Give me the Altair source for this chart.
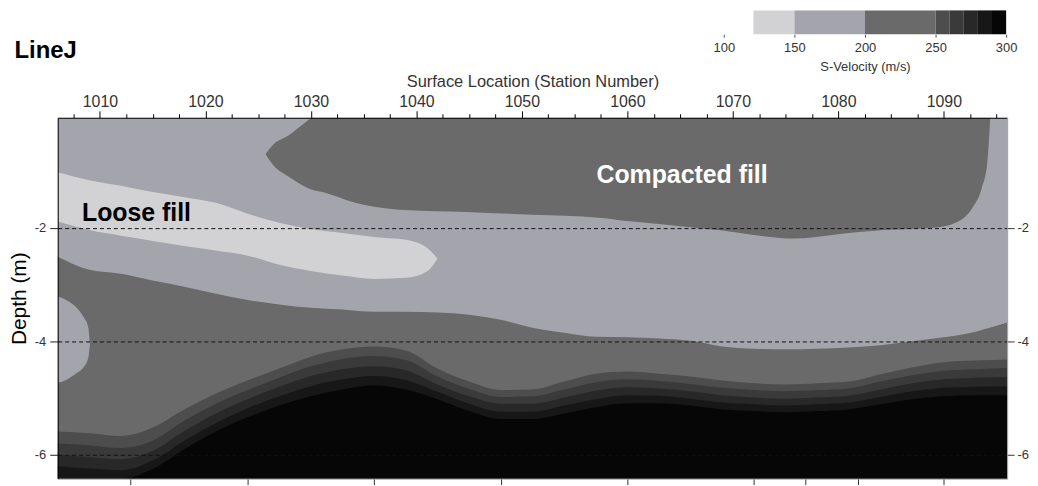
import altair as alt
import pandas as pd

FONT = "Liberation Sans"

# ---------------- data ----------------
X_DOMAIN = [1006.0, 1096.0]
Y_DOMAIN = [-6.42, -0.06]

grid_stations = [1006, 1009, 1012, 1015, 1018, 1021, 1024, 1027, 1030, 1033, 1036,
                 1039, 1042, 1045, 1048, 1051, 1054, 1057, 1060, 1063, 1066, 1069,
                 1072, 1075, 1078, 1081, 1084, 1087, 1090, 1093, 1096]

# contour boundaries (depth, m) on the station grid
b200 = [-2.51, -2.74, -2.81, -2.93, -3.04, -3.16, -3.27, -3.35, -3.41, -3.44, -3.48,
        -3.48, -3.49, -3.53, -3.62, -3.76, -3.85, -3.92, -3.93, -3.95, -3.99, -4.09,
        -4.13, -4.14, -4.13, -4.11, -4.07, -4.00, -3.93, -3.83, -3.67]
b250 = [-5.59, -5.62, -5.67, -5.52, -5.20, -4.92, -4.69, -4.48, -4.27, -4.14, -4.09,
        -4.16, -4.48, -4.71, -4.86, -4.85, -4.71, -4.57, -4.53, -4.57, -4.62, -4.69,
        -4.74, -4.76, -4.74, -4.71, -4.58, -4.46, -4.37, -4.34, -4.32]
b260 = [-5.80, -5.83, -5.88, -5.75, -5.40, -5.10, -4.86, -4.64, -4.44, -4.31, -4.26,
        -4.33, -4.62, -4.84, -4.98, -4.97, -4.85, -4.72, -4.67, -4.70, -4.75, -4.82,
        -4.86, -4.88, -4.86, -4.83, -4.71, -4.60, -4.52, -4.49, -4.47]
b270 = [-6.00, -6.04, -6.08, -5.93, -5.58, -5.27, -5.02, -4.80, -4.61, -4.49, -4.44,
        -4.51, -4.76, -4.97, -5.10, -5.10, -4.99, -4.87, -4.81, -4.83, -4.88, -4.95,
        -4.99, -5.01, -4.99, -4.96, -4.85, -4.74, -4.67, -4.64, -4.63]
b280 = [-6.20, -6.24, -6.27, -6.10, -5.75, -5.44, -5.18, -4.97, -4.79, -4.67, -4.61,
        -4.68, -4.89, -5.10, -5.24, -5.24, -5.13, -5.02, -4.95, -4.96, -5.01, -5.08,
        -5.11, -5.13, -5.11, -5.08, -4.98, -4.88, -4.82, -4.80, -4.79]
b290 = [-6.42, -6.42, -6.42, -6.25, -5.90, -5.59, -5.34, -5.13, -4.97, -4.85, -4.78,
        -4.85, -5.02, -5.23, -5.37, -5.37, -5.27, -5.16, -5.09, -5.09, -5.13, -5.20,
        -5.23, -5.25, -5.23, -5.20, -5.11, -5.02, -4.97, -4.95, -4.95]

# "Compacted fill" body (200-250 m/s)
comp_x = [1025.7, 1026.4, 1027.9, 1029.5, 1030.1, 1031.1, 1034.2, 1036.0, 1038.4,
          1044.7, 1051.0, 1057.3, 1060.5, 1065.5, 1068.6, 1071.8, 1075.8, 1079.6,
          1084.3, 1089.0, 1091.1, 1092.7, 1093.6, 1094.1, 1094.4]
comp_top = [-0.70, -0.54, -0.37, -0.14, -0.06, -0.06, -0.06, -0.06, -0.06,
            -0.06, -0.06, -0.06, -0.06, -0.06, -0.06, -0.06, -0.06, -0.06,
            -0.06, -0.06, -0.06, -0.06, -0.06, -0.06, -0.06]
comp_bot = [-0.70, -0.89, -1.10, -1.28, -1.33, -1.37, -1.56, -1.63, -1.68,
            -1.72, -1.77, -1.82, -1.89, -1.98, -2.04, -2.12, -2.19, -2.12,
            -2.04, -2.00, -1.91, -1.65, -1.30, -0.89, -0.06]

# "Loose fill" body (< 150 m/s)
loose_x = [1006, 1009, 1012, 1015, 1018, 1021, 1024, 1027, 1030, 1033, 1036, 1039, 1041, 1042]
loose_top = [-1.02, -1.16, -1.26, -1.37, -1.46, -1.56, -1.75, -1.91, -2.02, -2.09,
             -2.16, -2.21, -2.35, -2.54]
loose_bot = [-1.89, -2.04, -2.14, -2.23, -2.32, -2.40, -2.49, -2.65, -2.76, -2.84,
             -2.90, -2.88, -2.77, -2.54]

# lighter bulge at the left edge (150-200 m/s)
bulge_x = [1006.0, 1006.8, 1007.8, 1008.4, 1008.9, 1009.05]
bulge_top = [-3.21, -3.27, -3.41, -3.56, -3.76, -4.04]
bulge_bot = [-4.73, -4.68, -4.56, -4.47, -4.29, -4.06]

# band colours (100-150, 150-200, 200-250, 250-260 ... 290-300 m/s)
C_LIGHT = "#d2d2d4"
C_MED = "#a4a4ac"
C_DARK = "#6a6a6a"
C_250 = "#4d4d4d"
C_260 = "#3a3a3a"
C_270 = "#282828"
C_280 = "#171717"
C_290 = "#060606"

major_ticks = [1010, 1020, 1030, 1040, 1050, 1060, 1070, 1080, 1090]
minor_ticks = [1007.5, 1012.5, 1015, 1017.5, 1022.5, 1025, 1027.5, 1032.5, 1035, 1037.5,
               1042.5, 1045, 1047.5, 1052.5, 1055, 1057.5, 1062.5, 1065, 1067.5,
               1072.5, 1075, 1077.5, 1082.5, 1085, 1087.5, 1092.5, 1095]
bottom_ticks = [1012.9, 1024, 1036, 1048, 1060, 1072, 1076.9, 1081.9, 1090]
depth_ticks = [-2, -4, -6]

cb_lo = [121, 150, 200, 250, 260, 270, 280, 290]
cb_hi = [150, 200, 250, 260, 270, 280, 290, 300]
cb_colors = [C_LIGHT, C_MED, C_DARK, C_250, C_260, C_270, C_280, C_290]
cb_ticks = [100, 150, 200, 250, 300]

label_text = ["Loose fill", "Compacted fill"]
label_station = [1008.3, 1057.07]
label_depth = [-1.88, -1.21]
label_color = ["#000000", "#ffffff"]

# ---------------- build ----------------
xs = alt.Scale(domain=X_DOMAIN, nice=False, zero=False)
ys = alt.Scale(domain=Y_DOMAIN, nice=False, zero=False)


def frame(x, top, bottom):
    return pd.DataFrame({"station": x, "top": top, "bottom": bottom})


def band(df, color, xaxis=None, yaxis=None):
    return alt.Chart(df).mark_area(color=color, interpolate="monotone", clip=True).encode(
        x=alt.X("station:Q", scale=xs, axis=xaxis),
        y=alt.Y("top:Q", scale=ys, axis=yaxis),
        y2="bottom:Q",
    )


ymin = [Y_DOMAIN[0]] * len(grid_stations)
ymax = [Y_DOMAIN[1]] * len(grid_stations)

ax_top = alt.Axis(orient="top", values=major_ticks, title="Surface Location (Station Number)",
                  tickSize=7, tickColor="#000", domainColor="#000", labelFontSize=16,
                  labelColor="#333", labelPadding=1, labelFont=FONT, titleFont=FONT,
                  titleFontSize=16.5, titleFontWeight="normal", titleColor="#333",
                  titlePadding=4, grid=False, labelExpr="'' + datum.value", zindex=1)
ax_minor = alt.Axis(orient="top", values=minor_ticks, labels=False, tickSize=4,
                    tickColor="#000", domain=False, grid=False, title=None, zindex=1)
ax_bottom = alt.Axis(orient="bottom", values=bottom_ticks, labels=False, tickSize=6,
                     tickColor="#333", domainColor="#999", grid=False, title=None, zindex=1)
ax_left = alt.Axis(orient="left", values=depth_ticks, title="Depth (m)", tickSize=8,
                   tickColor="#222", domainColor="#000", labelFontSize=13, labelColor="#333",
                   labelPadding=4, labelFont=FONT, titleFont=FONT, titleFontSize=21,
                   titleFontWeight="normal", titleColor="#000", titlePadding=4.5,
                   grid=True, gridColor="#111", gridDash=[4, 3], gridWidth=1, gridOpacity=1,
                   labelExpr="'' + datum.value", zindex=1)
ax_right = alt.Axis(orient="right", values=depth_ticks, title=None, tickSize=7,
                    tickColor="#333", domainColor="#999", labelFontSize=13, labelColor="#333",
                    labelPadding=3, labelFont=FONT, grid=False,
                    labelExpr="'' + datum.value", zindex=1)

layers = [
    band(frame(grid_stations, ymax, ymin), C_MED, ax_top, ax_left),
    band(frame(grid_stations, b200, ymin), C_DARK, ax_minor, ax_right),
    band(frame(grid_stations, b250, ymin), C_250, ax_bottom),
    band(frame(grid_stations, b260, ymin), C_260),
    band(frame(grid_stations, b270, ymin), C_270),
    band(frame(grid_stations, b280, ymin), C_280),
    band(frame(grid_stations, b290, ymin), C_290),
    band(frame(comp_x, comp_top, comp_bot), C_DARK),
    band(frame(loose_x, loose_top, loose_bot), C_LIGHT),
    band(frame(bulge_x, bulge_top, bulge_bot), C_MED),
]

labels_df = pd.DataFrame({"text": label_text, "station": label_station,
                          "depth": label_depth, "color": label_color})
text_layer = alt.Chart(labels_df).mark_text(
    font=FONT, fontSize=25, fontWeight="bold", align="left", baseline="alphabetic"
).encode(
    x=alt.X("station:Q", scale=xs, axis=None),
    y=alt.Y("depth:Q", scale=ys, axis=None),
    text="text:N",
    color=alt.Color("color:N", scale=None),
)

main = alt.layer(*layers, text_layer).resolve_axis(
    x="independent", y="independent"
).properties(width=955, height=363)

cb_df = pd.DataFrame({"lo": cb_lo, "hi": cb_hi, "color": cb_colors})
colorbar = alt.Chart(cb_df).mark_rect().encode(
    x=alt.X("lo:Q",
            scale=alt.Scale(domain=[100, 300], range=[670, 954], nice=False, zero=False),
            axis=alt.Axis(values=cb_ticks, title="S-Velocity (m/s)", tickSize=3,
                          tickColor="#555", domain=False, labelFontSize=13, labelColor="#333",
                          labelPadding=4, labelFont=FONT, titleFont=FONT, titleFontSize=13,
                          titleFontWeight="normal", titleColor="#333", titlePadding=6,
                          labelFlush=False, grid=False)),
    x2="hi:Q",
    color=alt.Color("color:N", scale=None),
).properties(
    width=955, height=24,
    title=alt.TitleParams("LineJ", orient="top", anchor="start", frame="group",
                          fontSize=24, font=FONT, fontWeight="bold", color="#000",
                          dx=-43.5, dy=72, offset=0, baseline="alphabetic"),
)

chart = alt.vconcat(colorbar, main, spacing=-1, padding=0).configure_view(
    stroke="transparent"
)

chart.save("out.html", embed_options={"renderer": "svg", "actions": False})
